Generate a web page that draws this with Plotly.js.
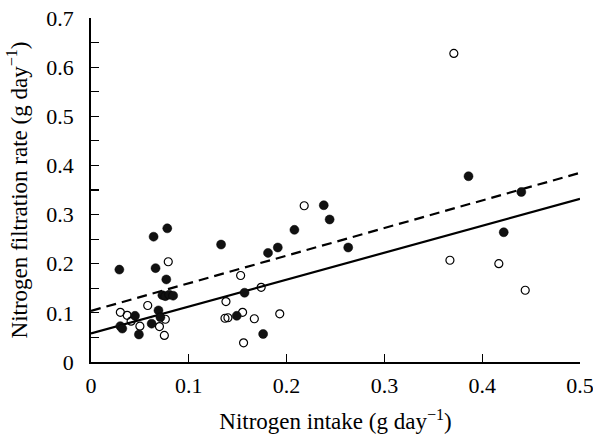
<!DOCTYPE html>
<html>
<head>
<meta charset="utf-8">
<script src="https://cdn.plot.ly/plotly-3.0.1.min.js"></script>
<style>html,body{margin:0;padding:0;background:#fff;}#chart{width:593px;height:437px;}</style>
</head>
<body>
<div id="chart"></div>
<script>
// Filled circles
const filledX = [0.029, 0.030, 0.032, 0.045, 0.049, 0.062, 0.064, 0.066, 0.069, 0.071, 0.078, 0.077, 0.073, 0.076, 0.080, 0.084, 0.133, 0.149, 0.157, 0.176, 0.181, 0.191, 0.208, 0.238, 0.244, 0.263, 0.386, 0.422, 0.440];
const filledY = [0.188, 0.073, 0.068, 0.094, 0.056, 0.078, 0.255, 0.191, 0.105, 0.091, 0.272, 0.168, 0.136, 0.134, 0.137, 0.135, 0.239, 0.094, 0.141, 0.057, 0.222, 0.233, 0.269, 0.319, 0.290, 0.233, 0.378, 0.264, 0.346];
// Open circles
const openX = [0.030, 0.037, 0.041, 0.050, 0.058, 0.070, 0.076, 0.075, 0.079, 0.138, 0.137, 0.140, 0.153, 0.155, 0.156, 0.167, 0.174, 0.193, 0.218, 0.367, 0.371, 0.417, 0.444];
const openY = [0.101, 0.095, 0.083, 0.073, 0.115, 0.072, 0.087, 0.054, 0.204, 0.123, 0.089, 0.090, 0.176, 0.101, 0.039, 0.088, 0.152, 0.098, 0.318, 0.207, 0.628, 0.200, 0.146];
// Regression lines (endpoints)
const lineX = [0, 0.5];
const solidY = [0.058, 0.332];
const dashedY = [0.104, 0.385];
const xTickVals = [0, 0.1, 0.2, 0.3, 0.4, 0.5];
const xTickText = ['0', '0.1', '0.2', '0.3', '0.4', '0.5'];
const yTickVals = [0, 0.1, 0.2, 0.3, 0.4, 0.5, 0.6, 0.7];
const yTickText = ['0', '0.1', '0.2', '0.3', '0.4', '0.5', '0.6', '0.7'];

const fam = 'Liberation Serif, Times New Roman, serif';
const tickFont = {family: fam, color: '#000', size: 22};
const titleFont = {family: fam, color: '#000', size: 23};

const traces = [
  {x: lineX, y: dashedY, mode: 'lines', line: {color: '#000', width: 2.2, dash: '10px,6px'}, hoverinfo: 'skip'},
  {x: lineX, y: solidY, mode: 'lines', line: {color: '#000', width: 2.2}, hoverinfo: 'skip'},
  {x: openX, y: openY, mode: 'markers', marker: {symbol: 'circle-open', size: 8, color: '#000', line: {width: 1.2, color: '#000'}}},
  {x: filledX, y: filledY, mode: 'markers', marker: {symbol: 'circle', size: 9, color: '#111', line: {width: 0.5, color: '#000'}}}
];

const layout = {
  width: 593, height: 437,
  margin: {l: 91, r: 13, t: 18, b: 75},
  paper_bgcolor: '#fff', plot_bgcolor: '#fff',
  showlegend: false,
  font: tickFont,
  xaxis: {
    range: [0, 0.5], showgrid: false, zeroline: false,
    showline: true, linecolor: '#000', linewidth: 1.8,
    ticks: 'inside', ticklen: 8, tickwidth: 1.2, tickcolor: '#000',
    tickvals: xTickVals, ticktext: xTickText, ticklabelstandoff: 3,
    ticklabeloverflow: 'allow',
    tickfont: tickFont,
    title: {text: 'Nitrogen intake (g day<sup>−1</sup>)', font: titleFont, standoff: 16}
  },
  yaxis: {
    range: [0, 0.7], showgrid: false, zeroline: false,
    showline: true, linecolor: '#000', linewidth: 1.8,
    ticks: 'inside', ticklen: 8, tickwidth: 1.2, tickcolor: '#000',
    tickvals: yTickVals, ticktext: yTickText, ticklabelstandoff: 11,
    ticklabeloverflow: 'allow',
    minor: {dtick: 0.05, ticks: 'inside', ticklen: 8, tickwidth: 1.2, tickcolor: '#000', showgrid: false},
    tickfont: tickFont,
    title: {text: 'Nitrogen filtration rate (g day<sup>−1</sup>)', font: titleFont, standoff: 12}
  }
};

Plotly.newPlot('chart', traces, layout, {displayModeBar: false, staticPlot: true});
</script>
</body>
</html>
